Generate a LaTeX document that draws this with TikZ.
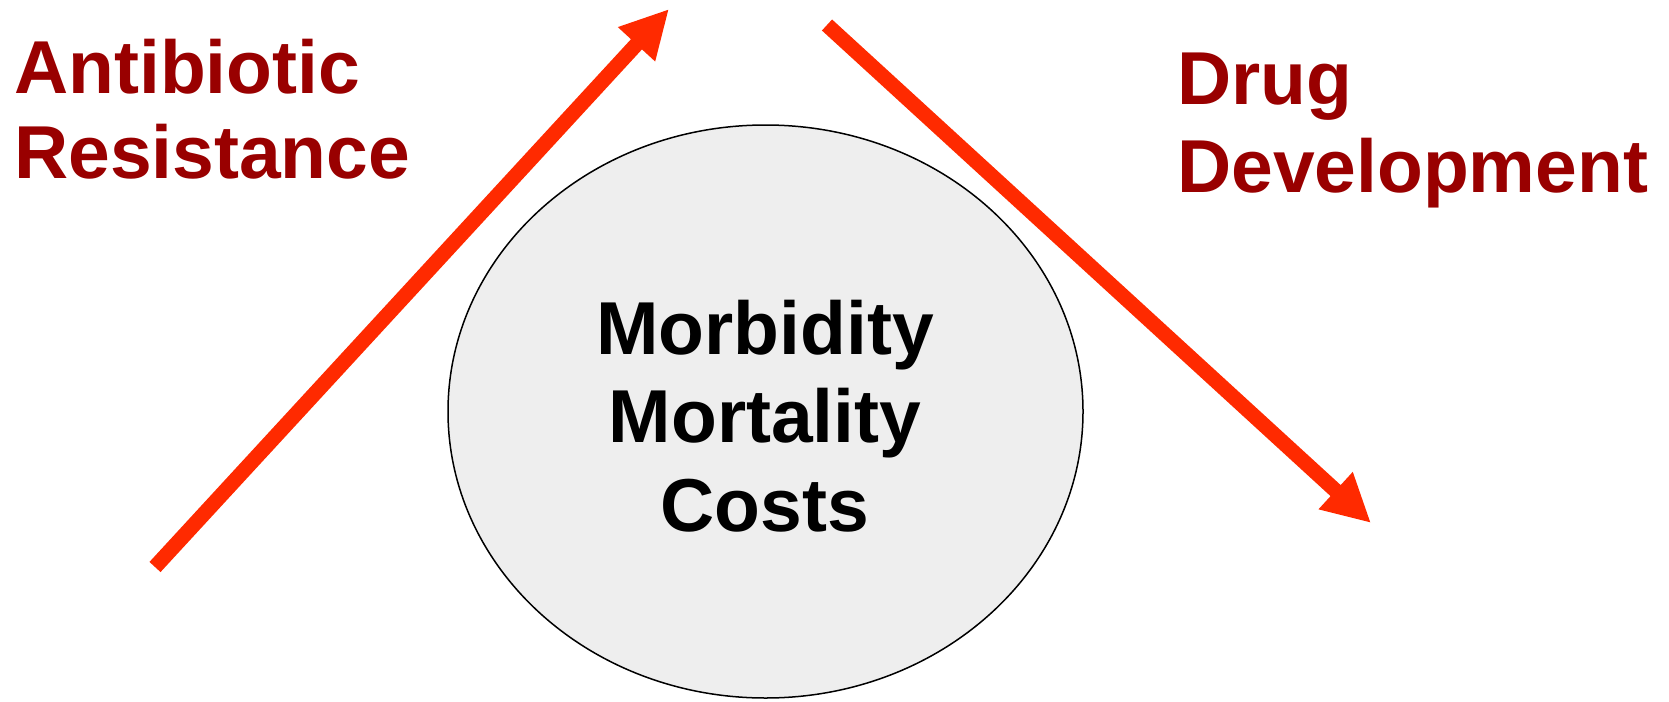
\documentclass[tikz,border=0pt]{standalone}
\usepackage{fontspec}
\setmainfont{Liberation Sans}
\usepackage{tikz}
\usetikzlibrary{shapes,arrows.meta}
\definecolor{darkred}{RGB}{153,0,0}
\definecolor{arrowred}{RGB}{255,42,0}
\definecolor{discgray}{RGB}{238,238,238}
\tikzstyle{sidetext} = [text=darkred, align=left, inner sep=0pt, anchor=base west]
\tikzstyle{disc} = [draw, ellipse, fill=discgray, line width=1.5pt, inner sep=0pt]
\tikzset{
  trend/.style ={draw, arrowred, line width=15pt, -{Triangle[length=48pt,width=47pt]}}
}

\begin{document}
\begin{tikzpicture}[x=1pt,y=-1pt]
  \useasboundingbox (0,0) rectangle (1669,701);
  \node[disc, minimum width=635pt, minimum height=573pt] (burden) at (765.5,411.5) {};
  \node[font=\bfseries\fontsize{75}{88.5}\selectfont, align=center, inner sep=0pt, anchor=base] (impact) at (765,531) {Morbidity\\Mortality\\Costs};
  \node[sidetext, font=\bfseries\fontsize{75}{85}\selectfont] (resist) at (14,178) {Antibiotic\\Resistance};
  \node[sidetext, font=\bfseries\fontsize{75}{88}\selectfont] (drugs) at (1177,192) {Drug\\Development};

  \coordinate (riseFrom) at (155,567);
  \coordinate (riseTo) at (669,9);
  \coordinate (fallFrom) at (827,25);
  \coordinate (fallTo) at (1371,523);

  \begin{scope}[every path/.style=trend]
    \path (riseFrom) -- (riseTo);
    \path (fallFrom) -- (fallTo);
  \end{scope}
\end{tikzpicture}
\end{document}
